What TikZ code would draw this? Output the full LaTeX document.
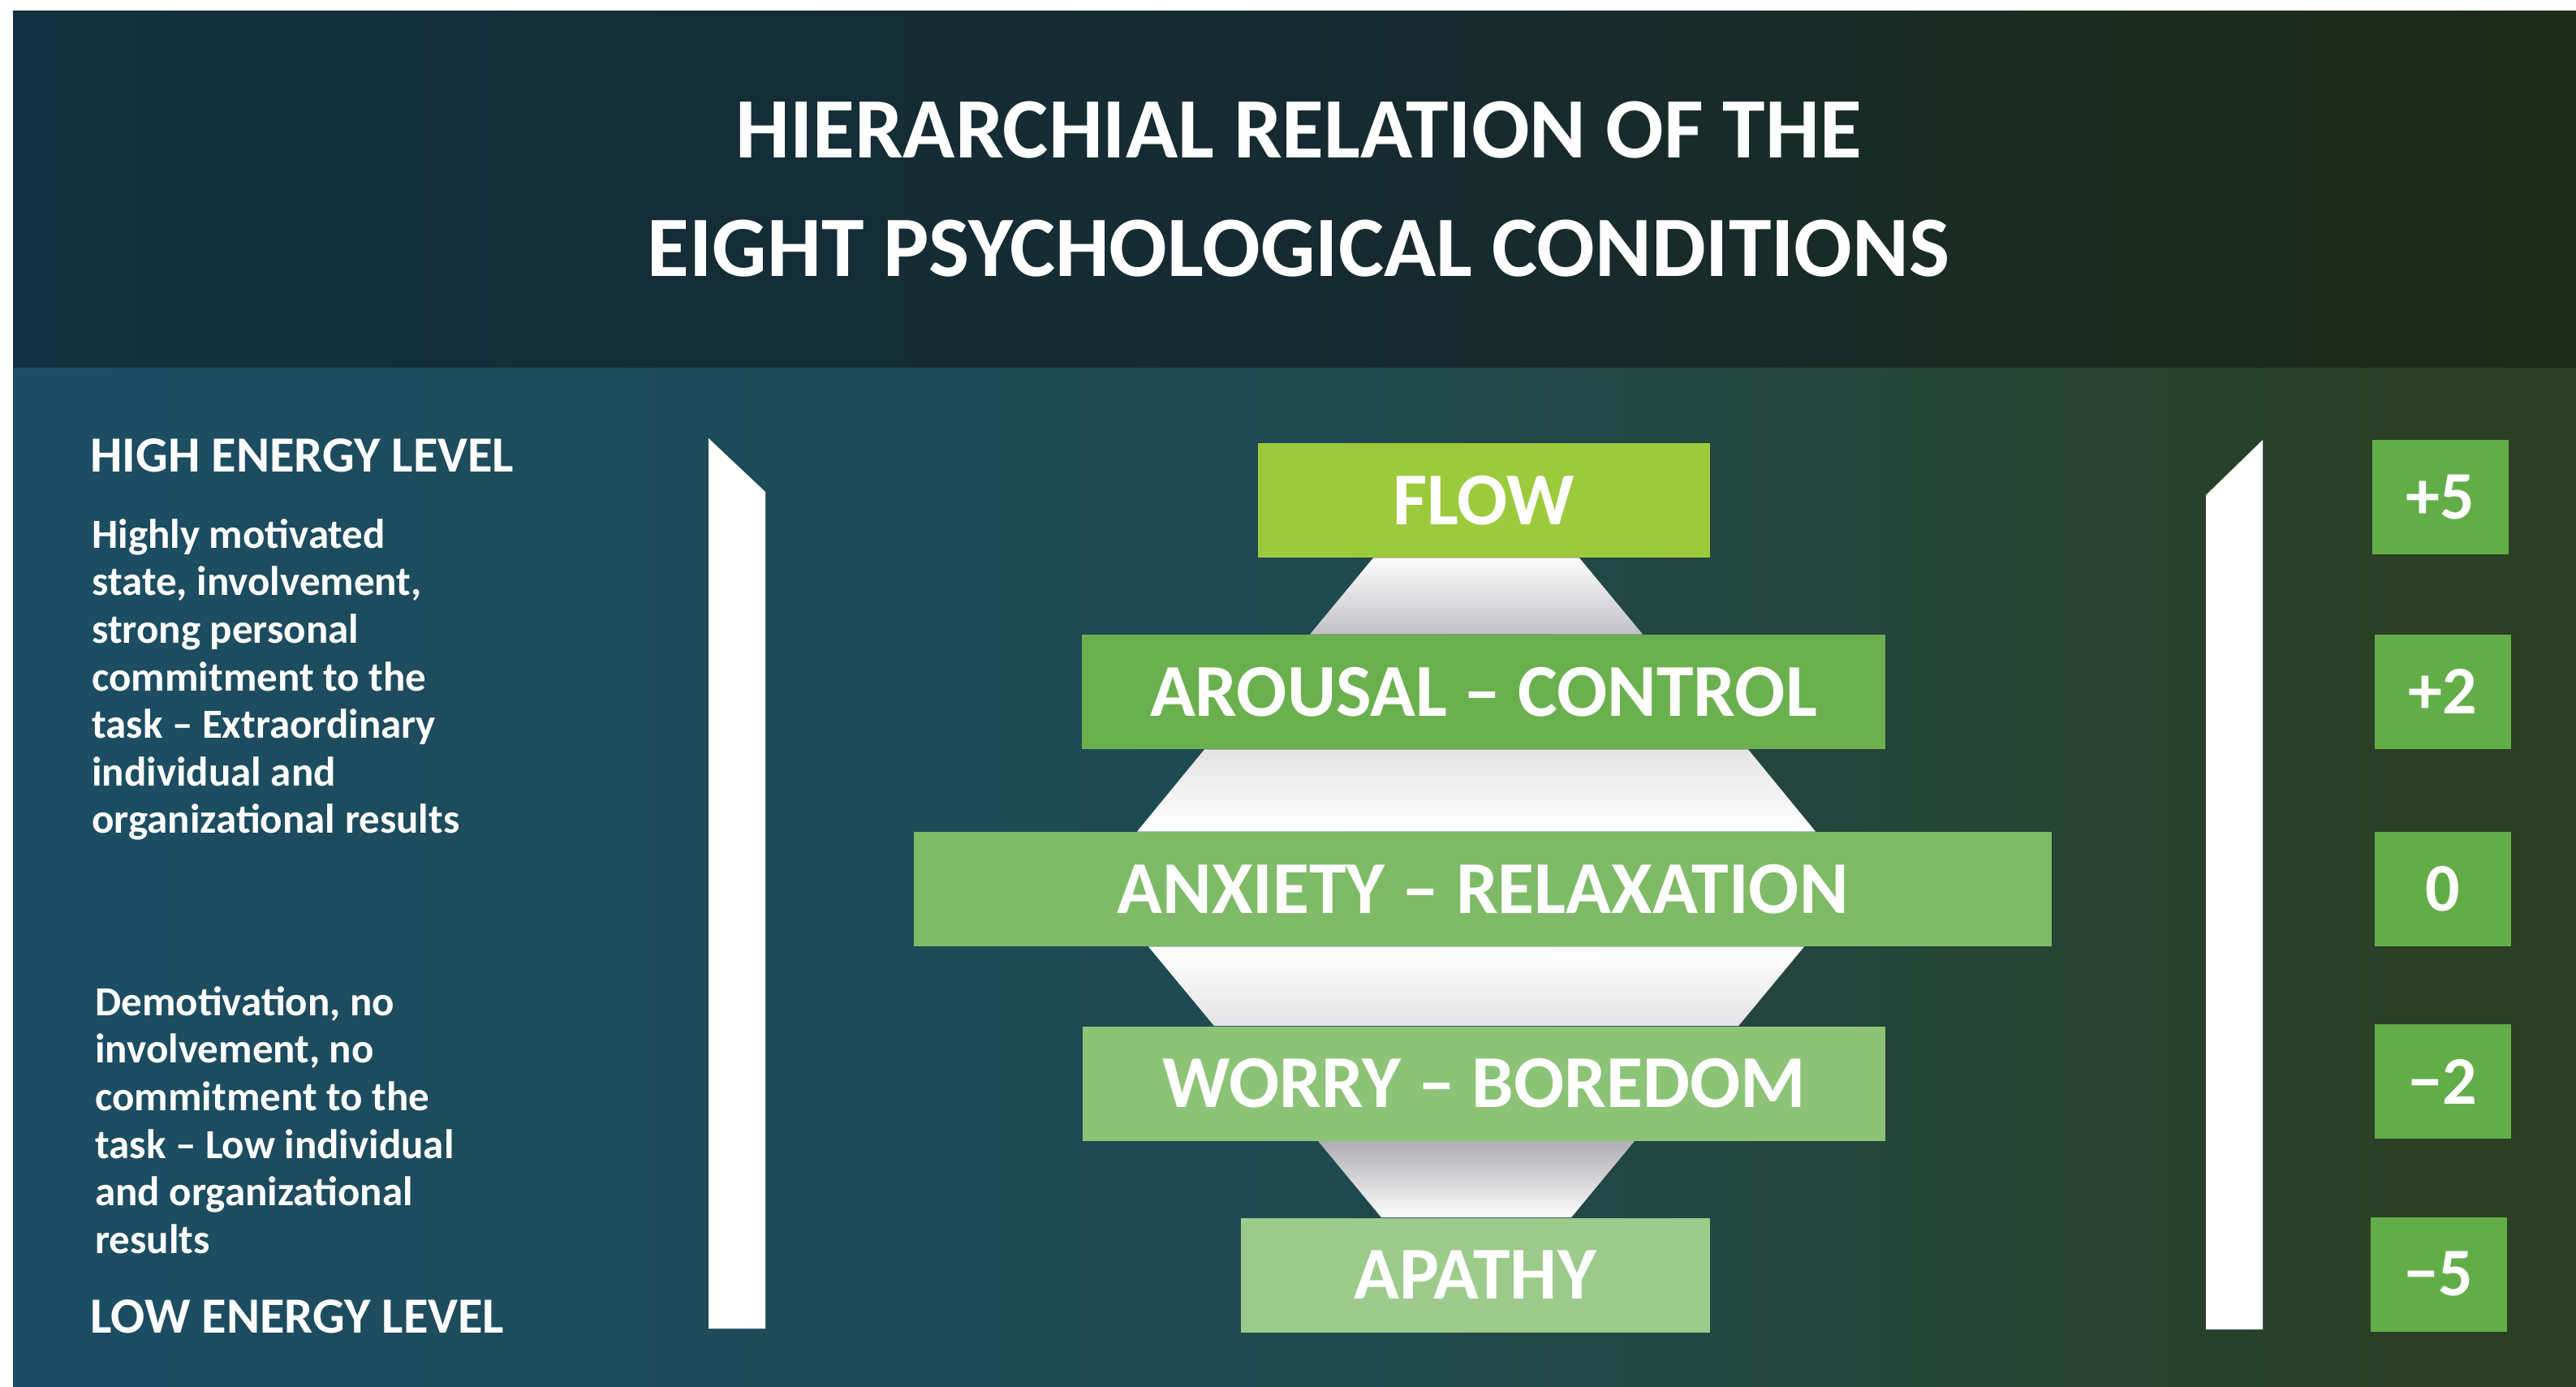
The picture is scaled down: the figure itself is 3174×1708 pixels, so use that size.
\documentclass[tikz,border=0pt]{standalone}
\usepackage{fontspec}
\setmainfont{Carlito}
\usetikzlibrary{calc}
\definecolor{hL}{HTML}{12303F}
\definecolor{hM}{HTML}{162B31}
\definecolor{hR}{HTML}{1D2B17}
\definecolor{bL}{HTML}{1C4D64}
\definecolor{bM}{HTML}{1F4A50}
\definecolor{bR}{HTML}{2A3F25}
\definecolor{flowc}{HTML}{9CCA3C}
\definecolor{arouc}{HTML}{6BB04E}
\definecolor{anxc}{HTML}{7FBB67}
\definecolor{worc}{HTML}{8DC377}
\definecolor{apac}{HTML}{9DCB8B}
\definecolor{numc}{HTML}{63AD48}
\definecolor{cgray}{HTML}{C2C1C6}
\definecolor{cgraylight}{HTML}{E4E4E6}
\pgfdeclarehorizontalshading{headsh}{100bp}{color(0bp)=(hL); color(25bp)=(hL); color(50bp)=(hM); color(75bp)=(hR); color(100bp)=(hR)}
\pgfdeclarehorizontalshading{bodysh}{100bp}{color(0bp)=(bL); color(25bp)=(bL); color(50bp)=(bM); color(72bp)=(bR); color(75bp)=(bR); color(100bp)=(bR)}
\begin{document}
\begin{tikzpicture}[x=0.5pt,y=-0.5pt,
  titletxt/.style={text=white, font=\fontsize{53}{60}\selectfont\bfseries, inner sep=0},
  headtxt/.style={text=white, font=\fontsize{31.2}{36}\selectfont\bfseries, inner sep=0, anchor=west},
  paratxt/.style={text=white, font=\fontsize{25.5}{29.3}\selectfont\bfseries, inner sep=0, anchor=north west, align=left},
  lvl/.style={minimum height=70.5pt, inner sep=0, text=white, font=\fontsize{46}{50}\selectfont\bfseries},
  numbox/.style={fill=numc, minimum width=84pt, minimum height=70.5pt, inner sep=0, text=white, font=\fontsize{42}{48}\selectfont\bfseries},
  barshape/.style={fill=white},
  connA/.style={top color=white!95!cgray, bottom color=cgray},
  connB/.style={top color=cgraylight, bottom color=white},
  connC/.style={top color=white, bottom color=cgraylight},
  connD/.style={top color=cgray!90!black, bottom color=white!95!cgray}
]
\useasboundingbox (0,0) rectangle (3174,1708);
\fill[white] (0,0) rectangle (3174,1708);
\shade[shading=headsh] (16,13) rectangle (3174,453);
\shade[shading=bodysh] (16,453) rectangle (3174,1708);

% title
\node[titletxt] (t1) at (1600,160) {HIERARCHIAL RELATION OF THE};
\node[titletxt] (t2) at (1600,306) {EIGHT PSYCHOLOGICAL CONDITIONS};

% left texts
\node[headtxt] (high) at (111,561) {HIGH ENERGY LEVEL};
\node[paratxt] (p1) at (113,639) {Highly motivated\\state, involvement,\\strong personal\\commitment to the\\task – Extraordinary\\individual and\\organizational results};
\node[paratxt] (p2) at (117,1215) {Demotivation, no\\involvement, no\\commitment to the\\task – Low individual\\and organizational\\results};
\node[headtxt] (low) at (111,1622) {LOW ENERGY LEVEL};

% side bars
\fill[barshape] (873,540) -- (943,606) -- (943,1637) -- (873,1637) -- cycle;
\fill[barshape] (2718,610) -- (2788,542) -- (2788,1638) -- (2718,1638) -- cycle;

% level boxes
\coordinate (ax) at (1819,0);
\node[lvl, fill=flowc, minimum width=278.5pt] (flow) at (1828,616.5) {FLOW};
\node[lvl, fill=arouc, minimum width=495pt] (arou) at (1828,852.5) {AROUSAL – CONTROL};
\node[lvl, fill=anxc, minimum width=701pt] (anx) at (1827,1095.5) {ANXIETY – RELAXATION};
\node[lvl, fill=worc, minimum width=494.5pt] (wor) at (1828.5,1335) {WORRY – BOREDOM};
\node[lvl, fill=apac, minimum width=289pt] (apa) at (1817.5,1571) {APATHY};

% connectors (diamond pieces)
\shade[connA] ($(flow.south -| ax)+(-127,0)$) -- ($(flow.south -| ax)+(127,0)$) -- ($(arou.north -| ax)+(205,0)$) -- ($(arou.north -| ax)+(-205,0)$) -- cycle;
\shade[connB] ($(arou.south -| ax)+(-335,0)$) -- ($(arou.south -| ax)+(335,0)$) -- ($(anx.north -| ax)+(418,0)$) -- ($(anx.north -| ax)+(-418,0)$) -- cycle;
\shade[connC] ($(anx.south -| ax)+(-404,0)$) -- ($(anx.south -| ax)+(404,0)$) -- ($(wor.north -| ax)+(323,0)$) -- ($(wor.north -| ax)+(-323,0)$) -- cycle;
\shade[connD] ($(wor.south -| ax)+(-195,0)$) -- ($(wor.south -| ax)+(195,0)$) -- ($(apa.north -| ax)+(117,0)$) -- ($(apa.north -| ax)+(-117,0)$) -- cycle;

% number boxes
\node[numbox] (n1) at (3007,612.5) {+5};
\node[numbox] (n2) at (3010,852) {+2};
\node[numbox] (n3) at (3010,1095.5) {0};
\node[numbox] (n4) at (3010,1332.5) {−2};
\node[numbox] (n5) at (3005,1570) {−5};
\end{tikzpicture}
\end{document}
